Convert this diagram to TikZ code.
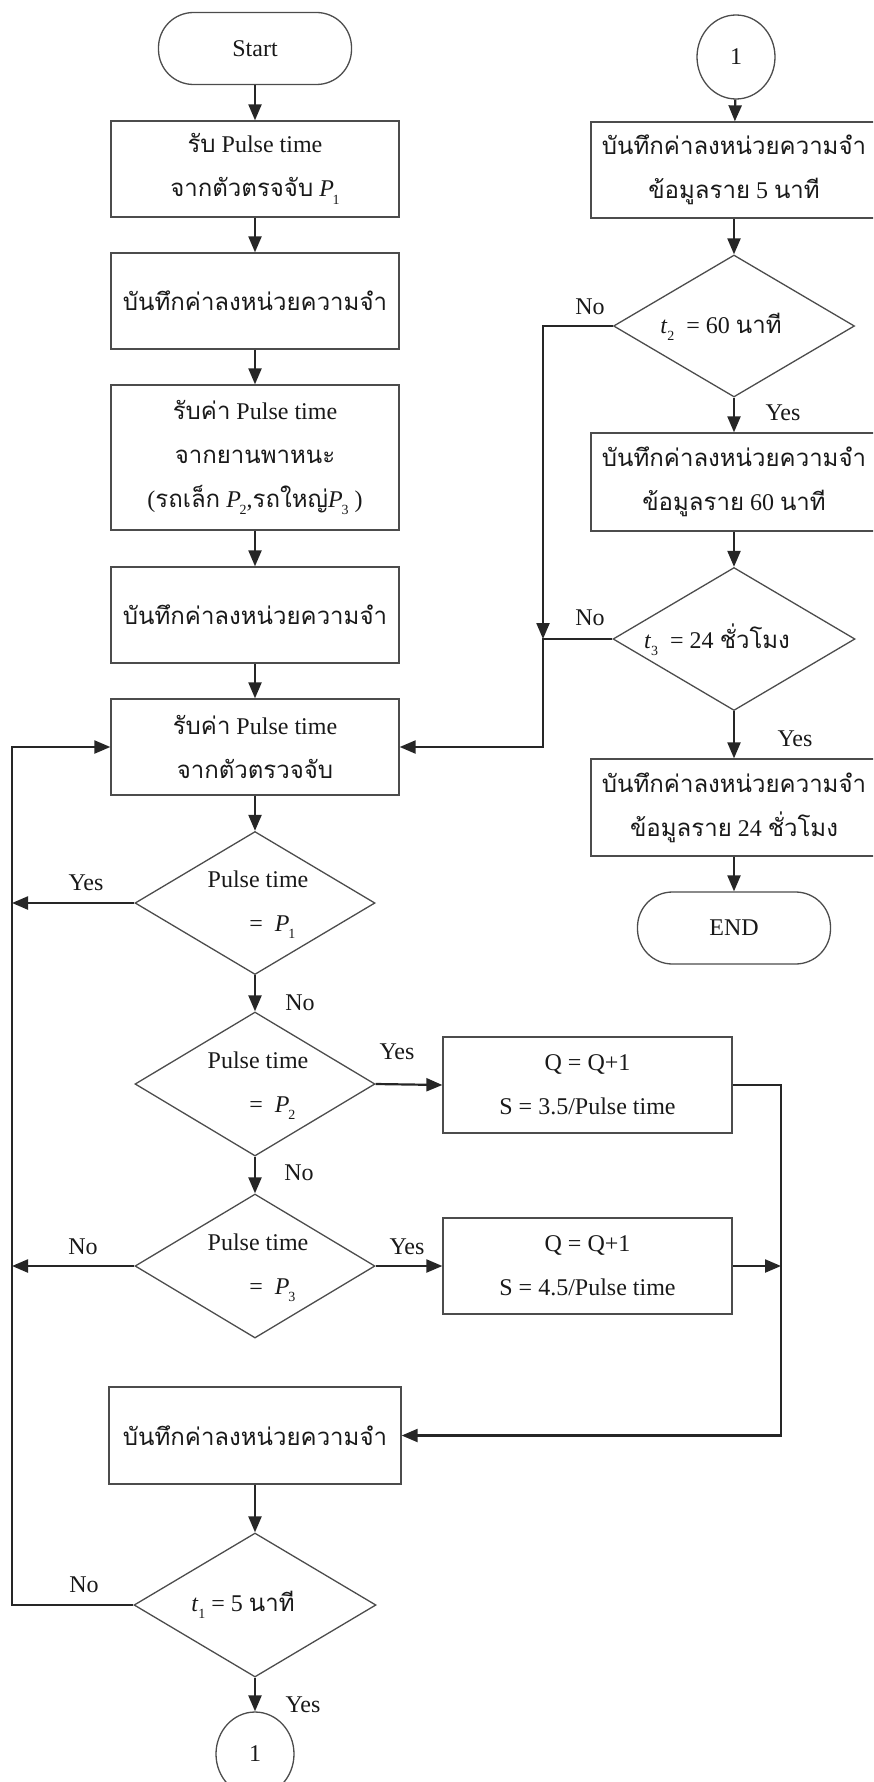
\documentclass[tikz,border=0pt]{standalone}
\usepackage{fontspec}
\setmainfont{Liberation Serif}
\newfontfamily\thaifont[Script=Thai]{Loma}
\usetikzlibrary{arrows.meta,shapes.geometric}
\newcommand\sub[1]{\raisebox{-0.3em}{\fontsize{14}{14}\selectfont #1}}
\newcommand\T[1]{{\thaifont #1}}
\newcommand\Pv[1]{\textit{P}\kern-0.05em\sub{#1}}
\newcommand\tv[1]{\textit{t}\sub{#1}}
\begin{document}
\begin{tikzpicture}[x=1pt,y=-1pt,
  every node/.style={font=\fontsize{24}{44}\selectfont, text=black!90},
  shp/.style={draw=black!70, line width=1.3pt, inner sep=0pt},
  box/.style={shp, rectangle, minimum width=288pt, minimum height=96pt, align=center},
  rbox/.style={box, minimum width=286pt},
  term/.style={shp, rectangle, rounded corners=35pt, minimum width=193pt, minimum height=72pt},
  dia/.style={shp, diamond, minimum width=240pt, minimum height=143pt},
  conn/.style={shp, ellipse, minimum width=78pt, minimum height=84pt},
  txt/.style={inner sep=0pt, align=center},
  lab/.style={inner sep=0pt},
  line/.style={line width=2.2pt, draw=black!85},
  arr/.style={line, -{Triangle[length=16pt,width=13pt]}}
]
\useasboundingbox (0,0) rectangle (873,1782);
\clip (0,0) rectangle (873,1782);

% ---------- left column ----------
\node[term] (start) at (255,48.5) {Start};
\node[box] (b1) at (255,169) {\T{รับ} Pulse time\\ \T{จากตัวตรจจับ} \Pv{1}};
\node[box] (b2) at (255,301) {\T{บันทึกค่าลงหน่วยความจำ}};
\node[box, minimum height=145pt] (b3) at (255,457.5) {\T{รับค่า} Pulse time\\ \T{จากยานพาหนะ}\\ (\T{รถเล็ก} \Pv{2},\T{รถใหญ่}\Pv{3} )};
\node[box] (b4) at (255,615) {\T{บันทึกค่าลงหน่วยความจำ}};
\node[box] (b5) at (255,747) {\T{รับค่า} Pulse time\\ \T{จากตัวตรวจจับ}};

\node[dia] (p1) at (255,903) {};
\node[txt] (p1t) at (258,905) {Pulse time\\ \hspace*{1.2em}= \ \Pv{1}};
\node[dia, minimum height=144pt] (p2) at (255,1084) {};
\node[txt] (p2t) at (258,1086) {Pulse time\\ \hspace*{1.2em}= \ \Pv{2}};
\node[dia, minimum height=144pt] (p3) at (255,1266) {};
\node[txt] (p3t) at (258,1268) {Pulse time\\ \hspace*{1.2em}= \ \Pv{3}};

\node[box, minimum width=289pt] (q1) at (587.5,1085) {Q = Q+1\\ S = 3.5/Pulse time};
\node[box, minimum width=289pt] (q2) at (587.5,1266) {Q = Q+1\\ S = 4.5/Pulse time};

\node[box, minimum width=292pt, minimum height=97pt] (b6) at (255,1435.5) {\T{บันทึกค่าลงหน่วยความจำ}};
\node[dia, minimum width=242pt, minimum height=144pt] (t1) at (255,1605) {};
\node[txt] (t1t) at (243,1605) {\tv{1} = 5 \T{นาที}};
\node[conn] (c1) at (255,1754) {1};

% ---------- right column ----------
\node[conn] (c0) at (736,57) {1};
\node[rbox] (r1) at (734,170) {\T{บันทึกค่าลงหน่วยความจำ}\\ \T{ข้อมูลราย} 5 \T{นาที}};
\node[dia, minimum width=241pt, minimum height=142pt] (t2) at (734,326) {};
\node[txt] (t2t) at (721,327) {\tv{2} \ = 60 \T{นาที}};
\node[rbox, minimum height=98pt] (r2) at (734,482) {\T{บันทึกค่าลงหน่วยความจำ}\\ \T{ข้อมูลราย} 60 \T{นาที}};
\node[dia, minimum width=242pt, minimum height=143pt] (t3) at (734,639) {};
\node[txt] (t3t) at (717,640) {\tv{3} \ = 24 \T{ชั่วโมง}};
\node[rbox, minimum height=97pt] (r3) at (734,807.5) {\T{บันทึกค่าลงหน่วยความจำ}\\ \T{ข้อมูลราย} 24 \T{ชั่วโมง}};
\node[term] (end) at (734,928) {END};

% ---------- helper coordinates ----------
\coordinate (L) at (12,0);
\coordinate (M) at (781,0);
\coordinate (J) at (543,0);

% ---------- connectors left ----------
\draw[arr] (start) -- (b1);
\draw[arr] (b1) -- (b2);
\draw[arr] (b2) -- (b3);
\draw[arr] (b3) -- (b4);
\draw[arr] (b4) -- (b5);
\draw[arr] (b5) -- (p1);
\draw[arr] (p1.west) -- (p1.west -| L);
\draw[arr] (p1) -- (p2);
\draw[arr] (p2.east) -- (q1.west);
\draw[arr] (p2) -- (p3);
\draw[arr] (p3.west) -- (p3.west -| L);
\draw[arr] (p3.east) -- (q2.west);
\draw[arr] (q1.east) -- (q1.east -| M) -- (b6.east -| M) -- (b6.east);
\draw[arr] (q2.east) -- (q2.east -| M);
\draw[arr] (b6) -- (t1);
\draw[arr] (t1.west) -- (t1.west -| L) -- (b5.west -| L) -- (b5.west);
\draw[arr] (t1) -- (c1);

% ---------- connectors right ----------
\draw[arr] (c0) -- (r1);
\draw[arr] (r1) -- (t2);
\draw[arr] (t2) -- (r2);
\draw[arr] (r2) -- (t3);
\draw[arr] (t3) -- (r3);
\draw[arr] (r3) -- (end);
\draw[arr] (t2.west) -- (t2.west -| J) -- (t3.west -| J);
\draw[arr] (t3.west) -- (t3.west -| J) -- (b5.east -| J) -- (b5.east);

% ---------- labels ----------
\node[lab] (l1) at (86,883) {Yes};
\node[lab] (l2) at (300,1003) {No};
\node[lab] (l3) at (397,1052) {Yes};
\node[lab] (l4) at (299,1173) {No};
\node[lab] (l5) at (83,1247) {No};
\node[lab] (l6) at (407,1247) {Yes};
\node[lab] (l7) at (84,1585) {No};
\node[lab] (l8) at (303,1705) {Yes};
\node[lab] (l9) at (590,307) {No};
\node[lab] (l10) at (783,413) {Yes};
\node[lab] (l11) at (590,618) {No};
\node[lab] (l12) at (795,739) {Yes};
\end{tikzpicture}
\end{document}
